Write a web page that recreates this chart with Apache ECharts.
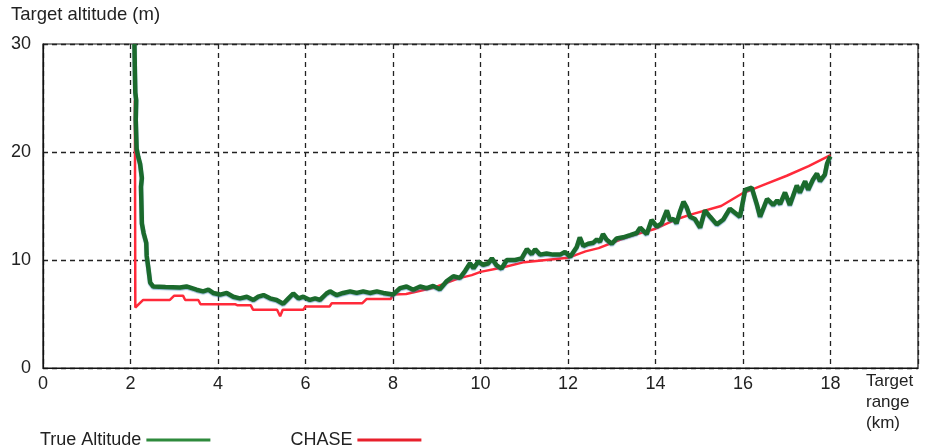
<!DOCTYPE html>
<html>
<head>
<meta charset="utf-8">
<script src="https://cdn.jsdelivr.net/npm/echarts@6/dist/echarts.min.js"></script>
<style>
html,body{margin:0;padding:0;background:#fff;}
#chart{width:928px;height:448px;}
</style>
</head>
<body>
<div id="chart"></div>
<script>
// X ticks (km) and Y ticks (m)
const xTicks = [0, 2, 4, 6, 8, 10, 12, 14, 16, 18];
const yTicks = [0, 10, 20, 30];

// True Altitude: target range (km) and altitude (m)
const trueRange = [2.09, 2.10, 2.11, 2.13, 2.12, 2.14, 2.18, 2.22, 2.26, 2.24, 2.26, 2.30, 2.36, 2.37, 2.41, 2.45, 2.52,
  2.80, 3.13, 3.28, 3.51, 3.66, 3.78, 3.89, 4.05, 4.20, 4.35, 4.50, 4.66, 4.81, 4.92, 5.04, 5.19, 5.34, 5.49, 5.61,
  5.72, 5.84, 5.95, 6.10, 6.22, 6.33, 6.48, 6.56, 6.71, 6.86, 7.02, 7.17, 7.32, 7.47, 7.63, 7.78, 8.00, 8.16, 8.31,
  8.46, 8.62, 8.77, 8.92, 9.07, 9.23, 9.38, 9.53, 9.65, 9.76, 9.84, 9.95, 10.06, 10.18, 10.26, 10.37, 10.48, 10.60,
  10.79, 10.94, 11.06, 11.17, 11.25, 11.36, 11.51, 11.66, 11.82, 11.93, 12.05, 12.20, 12.27, 12.35, 12.46, 12.58,
  12.66, 12.73, 12.80, 12.88, 13.00, 13.11, 13.26, 13.42, 13.57, 13.65, 13.80, 13.91, 14.03, 14.14, 14.26, 14.33,
  14.41, 14.48, 14.56, 14.64, 14.71, 14.79, 14.90, 15.02, 15.13, 15.25, 15.40, 15.55, 15.70, 15.93, 16.05, 16.20,
  16.32, 16.39, 16.55, 16.69, 16.78, 16.85, 16.96, 17.07, 17.23, 17.30, 17.42, 17.49, 17.60, 17.69, 17.76, 17.87,
  17.92, 17.97, 18.00];
const trueAlt = [30.0, 27.5, 25.5, 24.8, 23.0, 20.3, 19.5, 18.9, 17.6, 16.8, 13.4, 12.5, 11.6, 10.4, 9.2, 7.9, 7.55,
  7.5, 7.45, 7.55, 7.25, 7.1, 7.25, 6.95, 6.8, 6.95, 6.6, 6.45, 6.6, 6.3, 6.6, 6.75, 6.45, 6.3, 5.95, 6.45,
  6.9, 6.45, 6.6, 6.3, 6.45, 6.3, 6.9, 7.1, 6.75, 6.95, 7.1, 6.95, 7.1, 6.95, 7.1, 6.95, 6.8, 7.4, 7.55,
  7.25, 7.55, 7.4, 7.6, 7.3, 8.05, 8.5, 8.35, 9.0, 9.7, 9.25, 9.85, 9.55, 9.7, 10.15, 9.5, 9.2, 10.0,
  10.0, 10.15, 11.0, 10.55, 11.0, 10.5, 10.6, 10.5, 10.5, 10.75, 10.3, 11.2, 12.1, 11.3, 11.5, 11.6,
  11.9, 11.7, 12.4, 11.9, 11.5, 12.0, 12.1, 12.3, 12.5, 13.0, 12.4, 13.7, 13.1, 13.4, 14.6, 13.7,
  13.8, 13.4, 14.5, 15.4, 14.9, 14.0, 13.8, 13.0, 14.6, 14.0, 13.3, 13.75, 14.75, 14.0, 16.5, 16.7,
  15.1, 14.0, 15.65, 15.1, 15.5, 15.2, 16.25, 15.1, 16.9, 16.25, 17.3, 16.5, 17.45, 18.0, 17.3, 17.9,
  18.9, 19.4, 19.6];

// CHASE estimate: target range (km) and altitude (m)
const chaseRange = [2.10, 2.11, 2.14, 2.29, 2.90, 3.00, 3.20, 3.25, 3.55, 3.60, 4.40, 4.45, 4.75, 4.80, 5.35, 5.42,
  5.48, 5.95, 6.00, 6.55, 6.60, 7.30, 7.40, 7.95, 8.00, 8.30, 8.90, 9.50, 9.80, 10.00, 10.50, 11.00, 11.50, 12.00,
  12.40, 12.70, 13.20, 13.50, 14.00, 14.50, 14.80, 15.50, 16.00, 16.50, 17.00, 17.50, 18.00];
const chaseAlt = [24.8, 5.6, 5.6, 6.3, 6.3, 6.7, 6.7, 6.3, 6.3, 5.9, 5.9, 5.8, 5.8, 5.4, 5.4, 4.8,
  5.4, 5.4, 5.7, 5.7, 6.0, 6.0, 6.4, 6.4, 6.8, 6.85, 7.4, 8.3, 8.6, 8.9, 9.3, 9.8, 10.0, 10.2,
  10.8, 11.1, 11.9, 12.3, 12.9, 13.8, 14.2, 15.0, 16.2, 17.0, 17.8, 18.7, 19.7];

const seriesNames = ['True Altitude', 'CHASE'];
const FONT = "'Liberation Sans', Arial, sans-serif";
const TXT = '#222';

const chart = echarts.init(document.getElementById('chart'), null, {renderer: 'canvas'});
chart.setOption({
  animation: false,
  backgroundColor: '#fff',
  textStyle: {fontFamily: FONT},
  grid: {left: 43, right: 10, top: 44, bottom: 80, show: true, borderColor: '#111', borderWidth: 1.2, containLabel: false},
  legend: {
    data: seriesNames,
    left: 35, top: 426,
    align: 'right',
    itemWidth: 64, itemHeight: 3,
    itemGap: 80,
    icon: 'rect',
    textStyle: {fontFamily: FONT, fontSize: 18, color: TXT, padding: [0, 0, 0, 0]}
  },
  xAxis: {
    type: 'value', min: 0, max: 20, interval: 2,
    axisLine: {show: true, lineStyle: {color: '#111', width: 1.2}},
    axisTick: {show: false},
    axisLabel: {
      fontFamily: FONT, fontSize: 18, color: TXT, margin: 7,
      formatter: v => xTicks.includes(v) ? String(v) : ''
    },
    splitLine: {show: true, lineStyle: {color: '#222', width: 1.3, type: [5, 4]}}
  },
  yAxis: {
    type: 'value', min: 0, max: 30, interval: 10,
    axisLine: {show: true, lineStyle: {color: '#111', width: 1.2}},
    axisTick: {show: false},
    axisLabel: {
      fontFamily: FONT, fontSize: 18, color: TXT, margin: 12,
      formatter: v => yTicks.includes(v) ? String(v) : ''
    },
    splitLine: {show: true, lineStyle: {color: '#222', width: 1.3, type: [5, 4]}}
  },
  graphic: [
    {type: 'text', left: 11, top: 5, style: {text: 'Target altitude (m)', font: '18.5px ' + FONT, fill: TXT}},
    {type: 'text', left: 866, top: 371, style: {text: 'Target\nrange\n(km)', font: '17px ' + FONT, fill: TXT, lineHeight: 21}}
  ],
  series: [
    {
      name: 'CHASE', type: 'line', showSymbol: false, symbol: 'none', z: 2,
      color: '#e8202c',
      lineStyle: {color: '#ff2a3a', width: 2.5},
      data: chaseRange.map((x, i) => [x, chaseAlt[i]])
    },
    {
      name: 'True Altitude', type: 'line', showSymbol: false, symbol: 'none', z: 3,
      color: '#2e8a3c',
      lineStyle: {color: '#1b6a2c', width: 4.5, shadowColor: 'rgba(40,110,170,0.5)', shadowBlur: 1, shadowOffsetY: 1},
      data: trueRange.map((x, i) => [x, trueAlt[i]])
    }
  ]
});
</script>
</body>
</html>
